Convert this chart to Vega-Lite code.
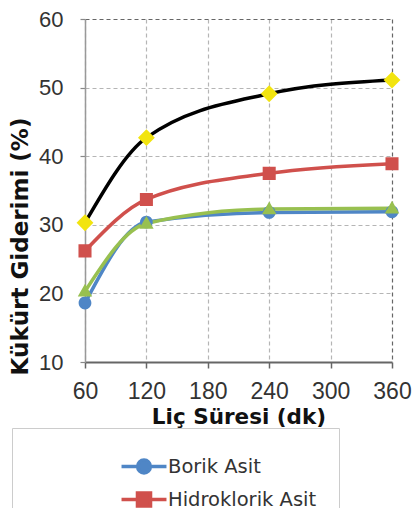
{
  "$schema": "https://vega.github.io/schema/vega-lite/v6.json",
  "width": 307,
  "height": 343,
  "autosize": {"type": "none"},
  "padding": {"left": 85, "top": 19, "right": 22, "bottom": 146},
  "background": "white",
  "config": {"view": {"stroke": null}},
  "data": {
    "values": [
      {"seri": "Borik Asit", "sure": 60, "giderim": 18.6},
      {"seri": "Borik Asit", "sure": 120, "giderim": 30.4},
      {"seri": "Borik Asit", "sure": 240, "giderim": 31.8},
      {"seri": "Borik Asit", "sure": 360, "giderim": 31.9},
      {"seri": "Hidroklorik Asit", "sure": 60, "giderim": 26.2},
      {"seri": "Hidroklorik Asit", "sure": 120, "giderim": 33.7},
      {"seri": "Hidroklorik Asit", "sure": 240, "giderim": 37.5},
      {"seri": "Hidroklorik Asit", "sure": 360, "giderim": 38.9},
      {"seri": "Sülfürik Asit", "sure": 60, "giderim": 20.3},
      {"seri": "Sülfürik Asit", "sure": 120, "giderim": 30.2},
      {"seri": "Sülfürik Asit", "sure": 240, "giderim": 32.3},
      {"seri": "Sülfürik Asit", "sure": 360, "giderim": 32.4},
      {"seri": "Nitrik Asit", "sure": 60, "giderim": 30.3},
      {"seri": "Nitrik Asit", "sure": 120, "giderim": 42.7},
      {"seri": "Nitrik Asit", "sure": 240, "giderim": 49.1},
      {"seri": "Nitrik Asit", "sure": 360, "giderim": 51.1}
    ]
  },
  "encoding": {
    "x": {
      "field": "sure", "type": "quantitative",
      "scale": {"domain": [60, 360], "nice": false, "zero": false},
      "axis": {
        "values": [60, 120, 180, 240, 300, 360],
        "title": "Liç Süresi (dk)",
        "labelFont": "Liberation Sans", "labelFontSize": 23, "labelColor": "#333",
        "labelFlush": false, "labelOverlap": false, "labelPadding": 12,
        "tickSize": 6, "tickColor": "#666", "tickWidth": 1.5,
        "domainColor": "#666", "domainWidth": 2,
        "grid": true, "gridDash": [4, 3],
        "gridColor": {"condition": {"test": "datum.value === 360", "value": "#666"}, "value": "#b5b5b5"},
        "gridWidth": 1.2,
        "titleFont": "DejaVu Sans", "titleFontSize": 21.5, "titleFontWeight": "bold", "titleColor": "#111",
        "titlePadding": 3
      }
    },
    "y": {
      "field": "giderim", "type": "quantitative",
      "scale": {"domain": [10, 60], "nice": false, "zero": false},
      "axis": {
        "values": [10, 20, 30, 40, 50, 60],
        "title": "Kükürt Giderimi (%)",
        "labelFont": "Liberation Sans", "labelFontSize": 22, "labelColor": "#333",
        "labelPadding": 17, "labelOverlap": false,
        "tickSize": 5, "tickColor": "#888", "tickWidth": 1.2,
        "domainColor": "#999", "domainWidth": 1.5,
        "grid": true, "gridDash": [4, 3],
        "gridColor": {"condition": {"test": "datum.value === 60", "value": "#666"}, "value": "#b5b5b5"},
        "gridWidth": 1.2,
        "titleFont": "DejaVu Sans", "titleFontSize": 23, "titleFontWeight": "bold", "titleColor": "#111",
        "titleX": -65, "titleY": 227, "titleAlign": "center", "titleBaseline": "middle", "titleAngle": -90
      }
    }
  },
  "layer": [
    {
      "mark": {"type": "line", "interpolate": "monotone", "strokeWidth": 3.5},
      "encoding": {
        "color": {
          "field": "seri", "type": "nominal",
          "scale": {
            "domain": ["Borik Asit", "Hidroklorik Asit", "Sülfürik Asit", "Nitrik Asit"],
            "range": ["#4f86c6", "#d0504c", "#98c050", "#000000"]
          },
          "legend": {
            "orient": "none", "legendX": -73, "legendY": 409,
            "values": ["Borik Asit", "Hidroklorik Asit"],
            "title": null,
            "strokeColor": "#cccccc", "fillColor": "white", "padding": 22,
            "symbolOffset": 93.5, "symbolSize": 841, "symbolStrokeWidth": 3.5,
            "labelFont": "DejaVu Sans", "labelFontSize": 19.5, "labelColor": "#333", "labelOffset": 7.5,
            "rowPadding": 3
          }
        }
      }
    },
    {
      "mark": {"type": "point", "filled": true, "opacity": 1, "size": 841},
      "encoding": {
        "shape": {
          "field": "seri", "type": "nominal",
          "scale": {
            "domain": ["Borik Asit", "Hidroklorik Asit", "Sülfürik Asit", "Nitrik Asit"],
            "range": [
              "M-1.55,0H1.55M0.44,0A0.44,0.44 0 1 1 -0.44,0A0.44,0.44 0 1 1 0.44,0Z",
              "M-1.55,0H1.55M-0.45,-0.45H0.45V0.45H-0.45Z",
              "M-1.55,0H1.55M0,-0.52L0.5,0.36H-0.5Z",
              "M-1.55,0H1.55M0,-0.58L0.58,0L0,0.58L-0.58,0Z"
            ]
          },
          "legend": null
        },
        "fill": {
          "field": "seri", "type": "nominal",
          "scale": {
            "domain": ["Borik Asit", "Hidroklorik Asit", "Sülfürik Asit", "Nitrik Asit"],
            "range": ["#4f86c6", "#d0504c", "#98c050", "#f2e40f"]
          },
          "legend": null
        }
      }
    }
  ]
}
